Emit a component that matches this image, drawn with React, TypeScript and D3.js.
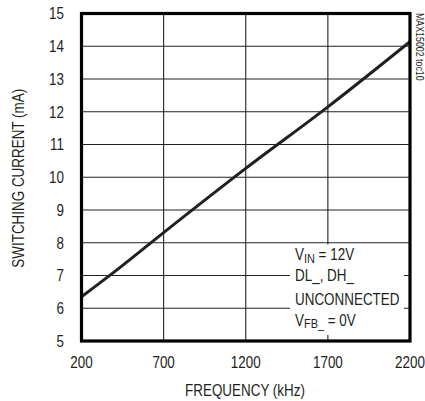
import React from "react";
import * as d3 from "d3";

const freqs = [200, 400, 700, 1200, 1700, 2200];
const currents = [6.35, 7.11, 8.31, 10.27, 12.15, 14.14];
const xTicks = [200, 700, 1200, 1700, 2200];
const yTicks = [5, 6, 7, 8, 9, 10, 11, 12, 13, 14, 15];

const W = 425, H = 401;
const L = 81.5, R = 410, T = 13.5, B = 341;
const FONT = "'Liberation Sans Narrow', 'Liberation Sans', Arial, sans-serif";
const SX = 0.84;

function NText(props: { x: number; y: number; rot?: number; anchor?: string; size?: number; dy?: string; children: React.ReactNode }) {
  const { x, y, rot = 0, anchor = "start", size = 16, dy, children } = props;
  return (
    <text transform={`translate(${x},${y}) rotate(${rot}) scale(${SX},1)`} textAnchor={anchor} fontSize={size} dy={dy} fill="#231f20">
      {children}
    </text>
  );
}

export default function App() {
  const x = d3.scaleLinear().domain([200, 2200]).range([L, R]);
  const y = d3.scaleLinear().domain([5, 15]).range([B, T]);
  const line = d3.line<number>().x((_, i) => x(freqs[i])).y((d) => y(d)).curve(d3.curveMonotoneX);
  return (
    <svg width={W} height={H} style={{ position: "absolute", left: 0, top: 0, background: "#fff" }} fontFamily={FONT}>
      {yTicks.slice(1, -1).map((t) => (
        <line key={"h" + t} x1={L} x2={R} y1={y(t)} y2={y(t)} stroke="#222" strokeWidth={1.1} />
      ))}
      {xTicks.slice(1, -1).map((t) => (
        <line key={"v" + t} x1={x(t)} x2={x(t)} y1={T} y2={B} stroke="#222" strokeWidth={1.1} />
      ))}
      <path d={line(currents) || ""} fill="none" stroke="#231f20" strokeWidth={3} />
      <rect x={290} y={244.5} width={114} height={90.5} fill="#fff" />
      <rect x={L} y={T} width={R - L} height={B - T} fill="none" stroke="#000" strokeWidth={3.2} />
      {yTicks.map((t) => (
        <NText key={"yl" + t} x={64} y={y(t)} dy="0.36em" anchor="end">{t}</NText>
      ))}
      {xTicks.map((t) => (
        <NText key={"xl" + t} x={x(t)} y={368} anchor="middle">{t}</NText>
      ))}
      <NText x={245} y={396} anchor="middle">FREQUENCY (kHz)</NText>
      <NText x={24} y={(T + B) / 2 + 1} rot={-90} anchor="middle">SWITCHING CURRENT (mA)</NText>
      <NText x={415.5} y={13} rot={90} size={10.5}>MAX15002 toc10</NText>
      <NText x={295} y={260}>V<tspan fontSize={13} dy={3}>IN</tspan><tspan dy={-3}> = 12V</tspan></NText>
      <NText x={295} y={281}>DL_, DH_</NText>
      <NText x={295} y={305}>UNCONNECTED</NText>
      <NText x={295} y={326}>V<tspan fontSize={13} dy={2}>FB_</tspan><tspan dy={-2}> = 0V</tspan></NText>
    </svg>
  );
}
